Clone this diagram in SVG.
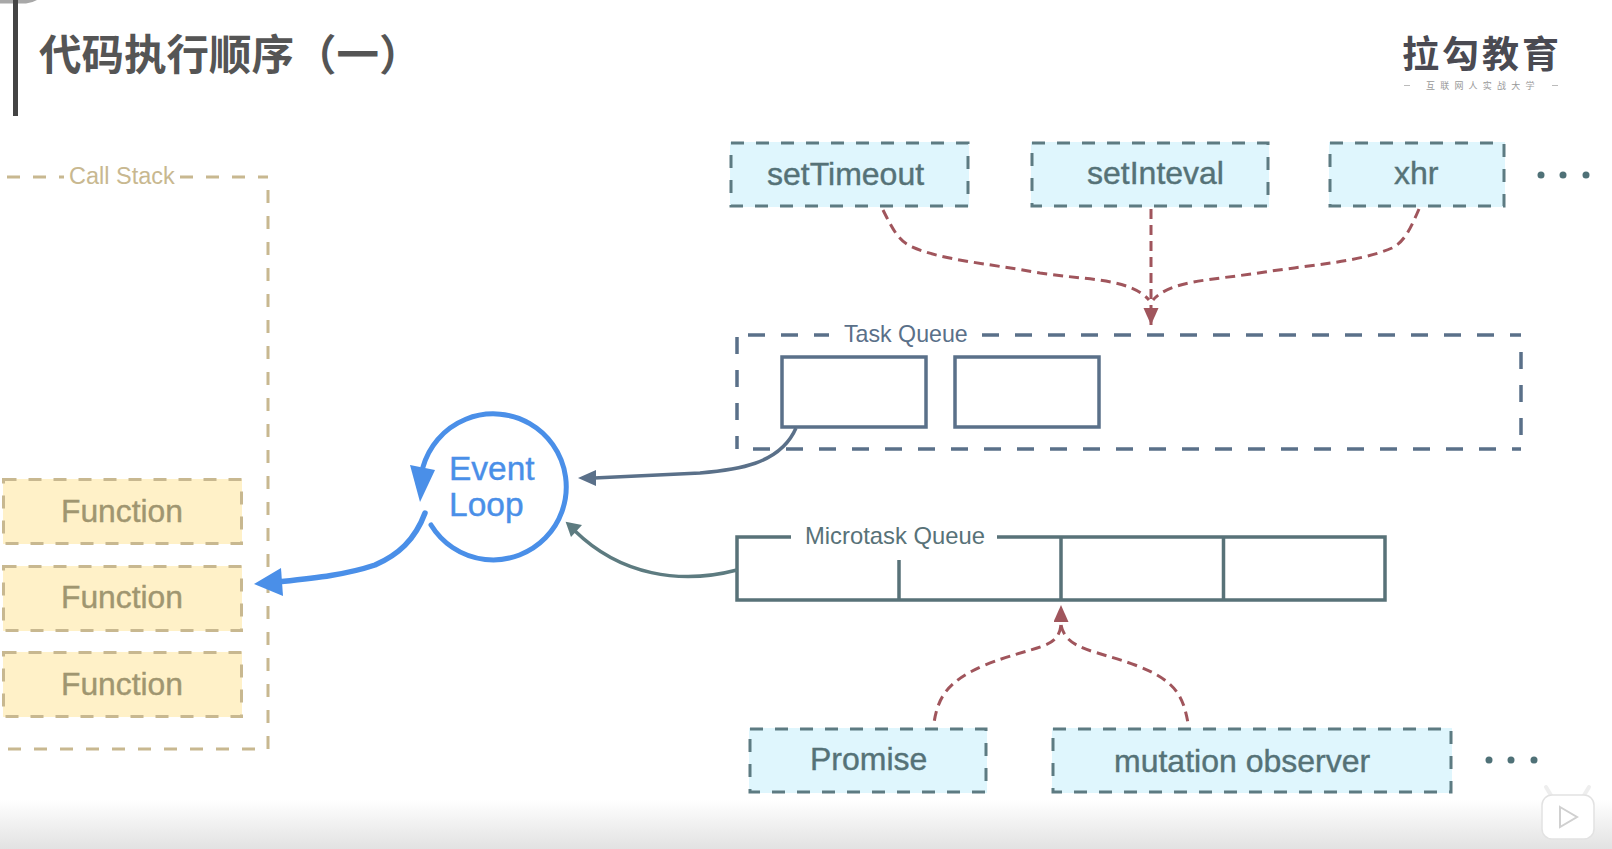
<svg xmlns="http://www.w3.org/2000/svg" width="1612" height="849" viewBox="0 0 1612 849">
<style>
text{font-family:"Liberation Sans","Noto Sans CJK SC",sans-serif}
.cjk{font-family:"Noto Sans CJK SC",sans-serif}
.src{fill:#dff6fd;stroke:none}
.srcd{fill:none;stroke:#5d7b82;stroke-width:3;stroke-dasharray:13 12}
.srct{fill:#557277;stroke:#557277;stroke-width:.4;font-size:32px}
.fn{fill:#fff1c8;stroke:none}
.fnd{fill:none;stroke:#c8b890;stroke-width:3;stroke-dasharray:13 12}
.fnt{fill:#a09670;stroke:#a09670;stroke-width:.4;font-size:31.800px}
.cs{fill:none;stroke:#c8b890;stroke-width:3;stroke-dasharray:13 13}
.tq{fill:none;stroke:#5a7089;stroke-width:3.500;stroke-dasharray:17 16}
.tb{fill:#fff;stroke:#5a7089;stroke-width:3.500}
.mq{fill:none;stroke:#587278;stroke-width:3.500}
.red{fill:none;stroke:#a0555c;stroke-width:3;stroke-dasharray:10 6}
.dot{fill:#4f7177}
</style>
<defs>
<linearGradient id="fade" x1="0" y1="0" x2="0" y2="1"><stop offset="0" stop-color="#fff"/><stop offset="1" stop-color="#e2e2e2"/></linearGradient>
<marker id="redhead" markerUnits="userSpaceOnUse" markerWidth="18" markerHeight="16" refX="17" refY="7.500" orient="auto"><path d="M0 0L17 7.500L0 15Z" fill="#a0555c"/></marker>
</defs>
<rect width="1612" height="849" fill="#fff"/>
<rect y="800" width="1612" height="49" fill="url(#fade)"/>
<path d="M0 0H37Q32 3 26 3.500H0Z" fill="#a8a8a8"/>
<rect x="13" y="0" width="5" height="116" fill="#444"/>
<text class="cjk" x="39" y="70" font-size="42.500" font-weight="700" fill="#555">代码执行顺序（一）</text>
<g id="logo">
<text class="cjk" x="1402" y="68" font-size="37" font-weight="700" letter-spacing="3" fill="#4a4a52">拉勾教育</text>
<text class="cjk" x="1426" y="89" font-size="9" letter-spacing="5.200" fill="#999">互联网人实战大学</text>
<path d="M1404 85.500H1410M1552 85.500H1558" stroke="#bbb" stroke-width="1"/>
</g>
<g id="call-stack">
<path class="cs" d="M7 177H64"/><path class="cs" d="M180 177H268"/><path class="cs" d="M268 190V749H0"/>
<text x="69" y="184" font-size="23.500" fill="#c8b890">Call Stack</text>
</g>
<g id="function-1"><rect class="fn" x="3" y="479" width="239" height="65"/><rect class="fnd" x="3.500" y="479.500" width="238" height="64"/><text class="fnt" x="61" y="522">Function</text></g>
<g id="function-2"><rect class="fn" x="3" y="566" width="239" height="65"/><rect class="fnd" x="3.500" y="566.500" width="238" height="64"/><text class="fnt" x="61" y="608">Function</text></g>
<g id="function-3"><rect class="fn" x="3" y="652" width="239" height="65"/><rect class="fnd" x="3.500" y="652.500" width="238" height="64"/><text class="fnt" x="61" y="695">Function</text></g>
<g id="event-loop">
<path d="M432 526A73 73 0 1 0 424 468" fill="none" stroke="#4a8fe8" stroke-width="5" stroke-linecap="round" transform="translate(-1 -1)"/>
<polygon points="410,465 435,470 420,502" fill="#4a8fe8"/>
<text x="449" y="480" font-size="33.500" fill="#4a8fe8" stroke="#4a8fe8" stroke-width=".4">Event</text>
<text x="449" y="516" font-size="33.500" fill="#4a8fe8" stroke="#4a8fe8" stroke-width=".4">Loop</text>
</g>
<g id="set-timeout"><rect class="src" x="730" y="142" width="239" height="65"/><rect class="srcd" x="731" y="143" width="237" height="63"/><text class="srct" x="767" y="185">setTimeout</text></g>
<g id="set-inteval"><rect class="src" x="1031" y="142" width="238" height="65"/><rect class="srcd" x="1032" y="143" width="236" height="63"/><text class="srct" x="1087" y="184">setInteval</text></g>
<g id="xhr"><rect class="src" x="1329" y="142" width="176" height="65"/><rect class="srcd" x="1330" y="143" width="174" height="63"/><text class="srct" x="1394" y="184">xhr</text></g>
<g id="more-top"><circle class="dot" cx="1541" cy="175" r="3.500"/><circle class="dot" cx="1563" cy="175" r="3.500"/><circle class="dot" cx="1586" cy="175" r="3.500"/></g>
<g id="task-queue">
<path class="tq" d="M748 335H829"/><path class="tq" d="M982 335H1521"/><path class="tq" d="M737 337V449"/><path class="tq" d="M1521 352V449"/><path class="tq" d="M753 449H1521"/>
<text x="844" y="342" font-size="23.200" fill="#5a7089">Task Queue</text>
<rect class="tb" x="782" y="357" width="144" height="70"/>
<rect class="tb" x="955" y="357" width="144" height="70"/>
</g>
<g id="microtask-queue">
<path class="mq" d="M791 537H737V600H1385V537H997"/>
<path class="mq" d="M899 560V600M1061 537V600M1223.500 537V600"/>
<text x="805" y="544" font-size="23.800" fill="#587278">Microtask Queue</text>
</g>
<g id="promise"><rect class="src" x="749" y="728" width="238" height="65"/><rect class="srcd" x="750" y="729" width="236" height="63"/><text class="srct" x="810" y="770">Promise</text></g>
<g id="mutation-observer"><rect class="src" x="1052" y="728" width="400" height="65"/><rect class="srcd" x="1053" y="729" width="398" height="63"/><text class="srct" x="1114" y="772">mutation observer</text></g>
<g id="more-bottom"><circle class="dot" cx="1489" cy="760" r="3.500"/><circle class="dot" cx="1511" cy="760" r="3.500"/><circle class="dot" cx="1534" cy="760" r="3.500"/></g>
<g id="connectors">
<path class="red" d="M883 210C892 228 898 240 910 246C940 260 985 263 1040 273C1085 280 1130 278 1149 300"/>
<path class="red" d="M1419 209C1410 230 1404 242 1392 248C1360 262 1310 265 1265 272C1215 280 1170 280 1153 300"/>
<path class="red" d="M1151 209V325" marker-end="url(#redhead)"/>
<path class="red" d="M1061 625C1058 650 1035 645 985 665C950 680 938 695 934 723"/>
<path class="red" d="M1061 625C1066 650 1095 650 1135 665C1175 680 1183 695 1188 723"/>
<path d="M1061 622V605" fill="none" stroke="none" marker-end="url(#redhead)"/>
<path d="M796 428C780 465 735 470 700 473L594 478" fill="none" stroke="#5a7089" stroke-width="3.500"/>
<polygon points="578,478 596,470 596,486" fill="#5a7089"/>
<path d="M737 570C680 585 620 575 575 531" fill="none" stroke="#5d7b80" stroke-width="3.500"/>
<polygon points="565.600,521.700 582,525 571,537" fill="#5d7b80"/>
<path d="M425 513C415 540 398 555 375 565C345 575 315 578 278 582" fill="none" stroke="#4a8fe8" stroke-width="5.500" stroke-linecap="round"/>
<polygon points="254,584 281,568 283,596" fill="#4a8fe8"/>
</g>
<g id="watermark">
<path d="M1552 797L1546 787M1583 797L1589 787" stroke="#eee" stroke-width="4" stroke-linecap="round"/>
<rect x="1542" y="795" width="52" height="44" rx="10" fill="#fff" stroke="#e2e2e2" stroke-width="1.500"/>
<path d="M1560 807L1577 817L1560 827Z" fill="none" stroke="#d0d0d0" stroke-width="2"/>
</g>
</svg>
